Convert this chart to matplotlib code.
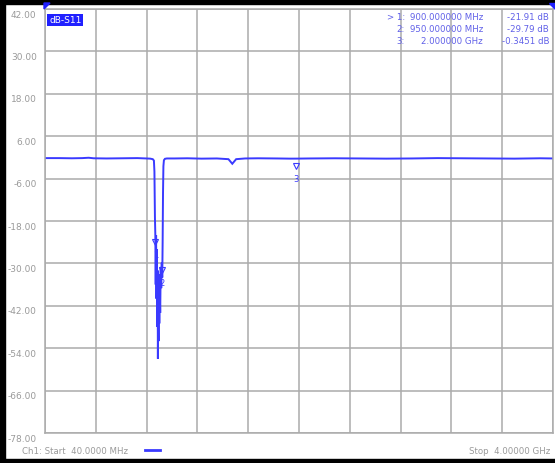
import matplotlib
matplotlib.use("Agg")
import matplotlib.pyplot as plt
from matplotlib.patches import Rectangle
import matplotlib.transforms as mtransforms

# ---- data ----
freq_mhz = [40, 150, 250, 330, 380, 420, 520, 640, 760, 830, 860, 880, 889,
            893, 897, 900, 903, 906, 909, 912, 915, 918, 920, 922, 925, 928,
            931, 934, 938, 942, 946, 950, 954, 957, 960, 963, 967, 975, 990, 1050,
            1150, 1260, 1380, 1470, 1500, 1530, 1600, 1700, 1850, 1950, 2000,
            2100, 2300, 2500, 2700, 2900, 3100, 3300, 3500, 3700, 3900, 4000]
s11_db = [-0.2, -0.2, -0.25, -0.2, -0.1, -0.25, -0.3, -0.25, -0.2, -0.3, -0.35,
          -0.5, -0.9, -4.0, -17.0, -21.91, -36.0, -22.0, -40.0, -26.0, -48.0,
          -32.0, -57.0, -40.0, -52.0, -33.0, -47.0, -36.0, -44.0, -31.0, -37.0,
          -29.79, -34.0, -24.0, -10.0, -2.5, -0.8, -0.4, -0.3, -0.3, -0.25, -0.35,
          -0.3, -0.5, -1.8, -0.5, -0.3, -0.25, -0.3, -0.35, -0.3451, -0.3,
          -0.25, -0.3, -0.35, -0.3, -0.2, -0.25, -0.3, -0.35, -0.25, -0.3]

marker_ids = ["1", "2", "3"]
marker_freq = [900, 950, 2000]
marker_db = [-21.91, -29.79, -0.3451]
marker_table = [("> 1:", "900.000000 MHz", "-21.91 dB"),
                ("2:", "950.000000 MHz", "-29.79 dB"),
                ("3:", "2.000000 GHz", "-0.3451 dB")]

y_ticks = [42, 30, 18, 6, -6, -18, -30, -42, -54, -66, -78]
y_labels = ["42.00", "30.00", "18.00", "6.00", "-6.00", "-18.00", "-30.00",
            "-42.00", "-54.00", "-66.00", "-78.00"]
start_mhz, stop_mhz = 40, 4000

trace_color = "#3a3aff"
grid_color = "#ababab"
text_grey = "#9a9a9a"
marker_text = "#6060e8"

fig = plt.figure(figsize=(5.55, 4.64), dpi=100)
ax = fig.add_axes([45/555, 1-434/464, 508/555, 424/464])

ax.plot(freq_mhz, s11_db, color=trace_color, lw=1.4, solid_joinstyle="miter")
ax.set_xlim(start_mhz, stop_mhz)
ax.set_ylim(-78, 42)

xt = [start_mhz + i*(stop_mhz-start_mhz)/10 for i in range(11)]
ax.set_xticks(xt)
ax.set_xticklabels([])
ax.set_yticks(y_ticks)
ax.set_yticklabels(y_labels, fontsize=6.5, color=text_grey)
ax.tick_params(axis="both", length=0, pad=5)
ax.tick_params(axis="y", pad=6)
off = mtransforms.ScaledTranslation(0, -3/72, fig.dpi_scale_trans)
for lab in ax.get_yticklabels():
    lab.set_transform(lab.get_transform() + off)
ax.grid(True, color=grid_color, lw=1.1)
for s in ax.spines.values():
    s.set_color(grid_color)
    s.set_linewidth(1.1)

# markers
for mid, mf, md in zip(marker_ids, marker_freq, marker_db):
    ax.plot([mf], [md], marker="v", ms=4, mfc="none", mec=trace_color, mew=0.8,
            transform=ax.transData + mtransforms.ScaledTranslation(0, -5/72, fig.dpi_scale_trans))
    ax.annotate(mid, (mf, md), xytext=(0, -14), textcoords="offset points",
                ha="center", va="center", fontsize=6, color=trace_color)

# dB-S11 label
ax.text(0.008, 0.985, "dB-S11", transform=ax.transAxes, fontsize=6.5,
        color="white", va="top", ha="left",
        bbox=dict(boxstyle="square,pad=0.2", fc="#2020ff", ec="none"))

# marker table
for i, (a, b, c) in enumerate(marker_table):
    yy = 1 - (17 + 12*i)/464
    fig.text(405/555, yy, a, fontsize=6.2, color=marker_text, ha="right", va="center")
    fig.text(483/555, yy, b, fontsize=6.2, color=marker_text, ha="right", va="center")
    fig.text(549/555, yy, c, fontsize=6.2, color=marker_text, ha="right", va="center")

# footer
fig.text(22/555, 1-452/464, "Ch1: Start  40.0000 MHz", fontsize=6.2, color=text_grey,
         ha="left", va="center")
fig.add_artist(plt.Line2D([145/555, 160/555], [1-451/464, 1-451/464], color=trace_color, lw=2))
fig.text(550/555, 1-452/464, "Stop  4.00000 GHz", fontsize=6.2, color=text_grey,
         ha="right", va="center")

# black frame
fig.add_artist(Rectangle((0, 0), 5/555, 1, transform=fig.transFigure, color="black"))
fig.add_artist(Rectangle((0, 1-5/464), 1, 5/464, transform=fig.transFigure, color="black"))
fig.add_artist(Rectangle((0, 0), 1, 4/464, transform=fig.transFigure, color="black"))
# corner blue triangles
fig.add_artist(plt.Polygon([[44/555, 1-4/464], [50/555, 1-4/464], [44/555, 1-10/464]],
                           closed=True, transform=fig.transFigure, color="#2020ff"))
fig.add_artist(plt.Polygon([[549/555, 1-4/464], [555/555, 1-4/464], [555/555, 1-10/464]],
                           closed=True, transform=fig.transFigure, color="#2020ff"))

fig.savefig("out.png", dpi=100)
